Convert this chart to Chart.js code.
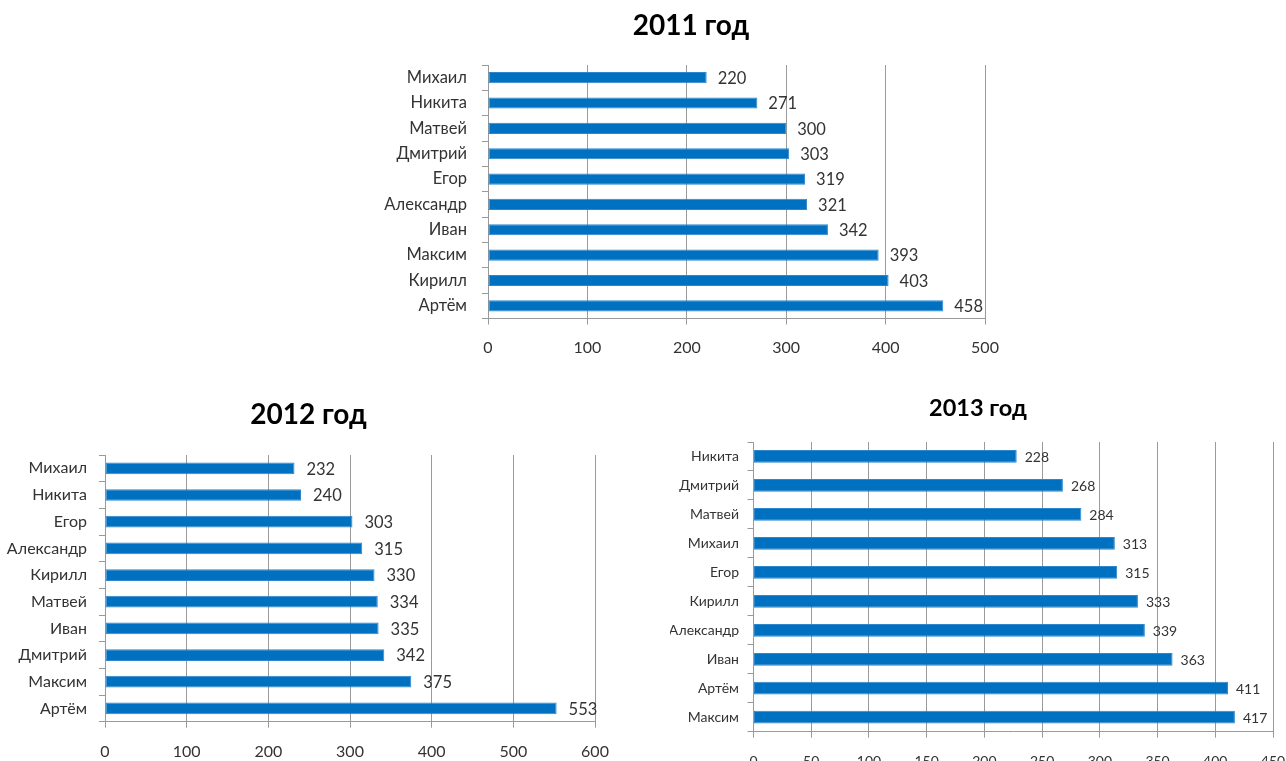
<!DOCTYPE html>
<html>
<head>
<meta charset="utf-8">
<script src="https://cdn.jsdelivr.net/npm/chart.js@4/dist/chart.umd.min.js"></script>
<style>
  html, body { margin:0; padding:0; background:#fff; }
  body { width:1286px; height:761px; position:relative; overflow:hidden; }
  canvas { position:absolute; display:block; }
</style>
</head>
<body>
<canvas id="c2011" width="660" height="370" style="left:361px;top:0px;"></canvas>
<canvas id="c2012" width="617" height="381" style="left:0px;top:380px;"></canvas>
<canvas id="c2013" width="616" height="381" style="left:670px;top:380px;"></canvas>
<script>
// ---- data ----
const title2011 = '2011 год';
const names2011 = ['Михаил','Никита','Матвей','Дмитрий','Егор','Александр','Иван','Максим','Кирилл','Артём'];
const values2011 = [220, 271, 300, 303, 319, 321, 342, 393, 403, 458];
const axisMax2011 = 500, axisStep2011 = 100;

const title2012 = '2012 год';
const names2012 = ['Михаил','Никита','Егор','Александр','Кирилл','Матвей','Иван','Дмитрий','Максим','Артём'];
const values2012 = [232, 240, 303, 315, 330, 334, 335, 342, 375, 553];
const axisMax2012 = 600, axisStep2012 = 100;

const title2013 = '2013 год';
const names2013 = ['Никита','Дмитрий','Матвей','Михаил','Егор','Кирилл','Александр','Иван','Артём','Максим'];
const values2013 = [228, 268, 284, 313, 315, 333, 339, 363, 411, 417];
const axisMax2013 = 450, axisStep2013 = 50;

// ---- styling ----
const BAR = '#0070C0';
const GRID = '#9a9a9a';
const TEXT = '#333333';
const FONT = 'Lato';

const valueLabels = {
  id: 'valueLabels',
  afterDatasetsDraw(chart, args, opts) {
    const ctx = chart.ctx;
    const meta = chart.getDatasetMeta(0);
    const data = chart.data.datasets[0].data;
    ctx.save();
    ctx.font = opts.size + 'px ' + FONT;
    ctx.fillStyle = TEXT;
    ctx.textAlign = 'left';
    ctx.textBaseline = 'middle';
    meta.data.forEach((bar, i) => {
      ctx.fillText(String(data[i]), bar.x + opts.gap, bar.y + opts.dy);
    });
    ctx.restore();
  }
};

function makeChart(id, title, names, values, axisMax, axisStep, o) {
  return new Chart(document.getElementById(id), {
    type: 'bar',
    data: {
      labels: names,
      datasets: [{
        data: values,
        xAxisID: 'x',
        yAxisID: 'y',
        backgroundColor: BAR,
        borderColor: '#2f86cc',
        borderWidth: 1,
        borderSkipped: false,
        barPercentage: 0.44,
        categoryPercentage: 1.0
      }]
    },
    options: {
      indexAxis: 'y',
      responsive: false,
      animation: false,
      layout: { padding: 0 },
      plugins: {
        legend: { display: false },
        tooltip: { enabled: false },
        title: {
          display: true,
          text: title,
          color: '#000',
          font: { family: FONT, size: o.titleSize, weight: 'bold', lineHeight: 1.2 },
          padding: { top: o.titleTop, bottom: o.titleBottom }
        },
        valueLabels: { size: o.valueSize, gap: o.valueGap, dy: 1 }
      },
      scales: {
        x: {
          min: 0,
          max: axisMax,
          ticks: { stepSize: axisStep, color: TEXT, font: { family: FONT, size: o.tickSize }, padding: o.xPad, maxRotation: 0 },
          grid: { color: GRID, tickLength: 6, drawTicks: true },
          border: { display: true, color: GRID },
          afterFit(s) { s.height = o.xHeight; s.paddingLeft = 0; s.paddingRight = 0; }
        },
        y: {
          ticks: { color: TEXT, font: { family: FONT, size: o.catSize }, padding: o.yPad },
          grid: { display: true, drawOnChartArea: false, drawTicks: true, tickLength: 6, color: GRID, offset: true },
          border: { display: true, color: GRID },
          afterFit(s) { s.width = o.yWidth; s.paddingTop = 0; s.paddingBottom = 0; }
        },
        yRight: {
          type: 'category',
          axis: 'y',
          position: 'right',
          display: true,
          ticks: { display: false },
          grid: { display: false, drawTicks: false },
          border: { display: false },
          afterFit(s) { s.width = o.rightSpace; s.paddingTop = 0; s.paddingBottom = 0; }
        }
      }
    },
    plugins: [valueLabels]
  });
}

makeChart('c2011', title2011, names2011, values2011, axisMax2011, axisStep2011, {
  rightSpace: 36, yWidth: 127, xHeight: 51.5,
  titleSize: 28, titleTop: 8.7, titleBottom: 22.7,
  tickSize: 16, catSize: 16.5, valueSize: 16.5, valueGap: 11,
  xPad: 14, yPad: 15
});
makeChart('c2012', title2012, names2012, values2012, axisMax2012, axisStep2012, {
  rightSpace: 22, yWidth: 105, xHeight: 39.3,
  titleSize: 28, titleTop: 18.2, titleBottom: 23.2,
  tickSize: 16, catSize: 16, valueSize: 16.5, valueGap: 12,
  xPad: 14.4, yPad: 12
});
makeChart('c2013', title2013, names2013, values2013, axisMax2013, axisStep2013, {
  rightSpace: 13, yWidth: 83.5, xHeight: 29.3,
  titleSize: 23.5, titleTop: 13.9, titleBottom: 19.9,
  tickSize: 14, catSize: 14, valueSize: 14, valueGap: 8,
  xPad: 15.6, yPad: 8.5
});
</script>
</body>
</html>
